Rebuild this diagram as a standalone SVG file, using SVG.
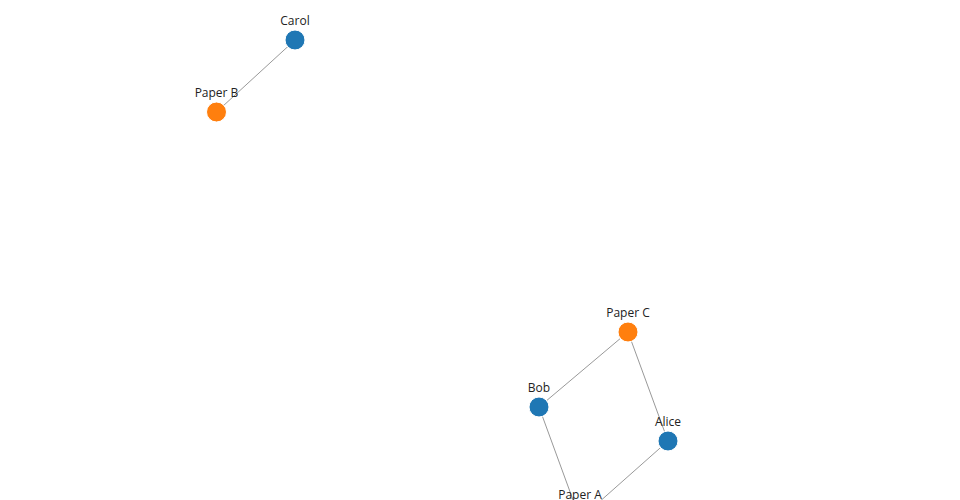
<svg xmlns="http://www.w3.org/2000/svg" width="960" height="500" viewBox="0 0 960 500">
<style>
.edge{stroke:#999;stroke-width:1;fill:none}
.author{fill:#1f77b4}
.paper{fill:#ff7f0e}
.node circle{stroke:#fff;stroke-width:1}
.label{font-family:"Open Sans","Liberation Sans",sans-serif;font-size:12px;fill:#222;text-anchor:middle}
</style>
<rect width="960" height="500" fill="#fff"/>
<g id="edges">
<line class="edge" x1="295" y1="40" x2="216.5" y2="112"/>
<line class="edge" x1="539" y1="407" x2="628" y2="332"/>
<line class="edge" x1="668" y1="441" x2="628" y2="332"/>
<line class="edge" x1="539" y1="407" x2="580" y2="519"/>
<line class="edge" x1="668" y1="441" x2="580" y2="519"/>
</g>
<g id="carol" class="node"><circle class="author" cx="295" cy="40" r="10"/><text class="label" x="295" y="25">Carol</text></g>
<g id="paper-b" class="node"><circle class="paper" cx="216.5" cy="112" r="10"/><text class="label" x="216.5" y="97">Paper B</text></g>
<g id="paper-c" class="node"><circle class="paper" cx="628" cy="332" r="10"/><text class="label" x="628" y="317">Paper C</text></g>
<g id="bob" class="node"><circle class="author" cx="539" cy="407" r="10"/><text class="label" x="539" y="392">Bob</text></g>
<g id="alice" class="node"><circle class="author" cx="668" cy="441" r="10"/><text class="label" x="668" y="426">Alice</text></g>
<g id="paper-a" class="node"><circle class="paper" cx="580" cy="519" r="10"/><text class="label" x="580" y="499">Paper A</text></g>
</svg>
